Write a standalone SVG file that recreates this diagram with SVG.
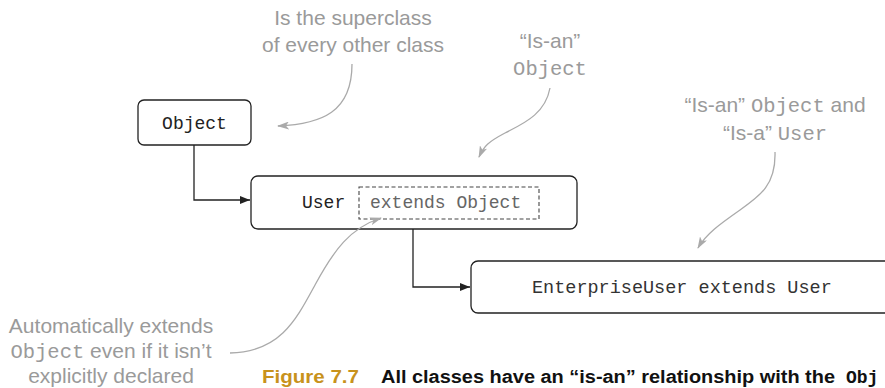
<svg xmlns="http://www.w3.org/2000/svg" width="885" height="388" viewBox="0 0 885 388">
  <style>
    .box { fill: #fff; stroke: #222; stroke-width: 1.3; }
    .dash { fill: none; stroke: #444; stroke-width: 1.1; stroke-dasharray: 4 2.5; }
    .code { font-family: "Liberation Mono", "Courier New", monospace; font-size: 18px; fill: #222; }
    .note { font-family: "Liberation Sans", Arial, sans-serif; font-size: 21px; fill: #9a9a9a; text-anchor: middle; }
    .notecode { font-family: "Liberation Mono", "Courier New", monospace; font-size: 20.5px; fill: #9a9a9a; }
    .conn { fill: none; stroke: #222; stroke-width: 1.3; }
    .call { fill: none; stroke: #aaa; stroke-width: 1.3; }
    .cap { font-family: "Liberation Sans", Arial, sans-serif; font-size: 18px; font-weight: bold; }
  </style>
  <defs>
    <marker id="ab" viewBox="0 0 10 8" refX="10" refY="4" markerWidth="10" markerHeight="8" markerUnits="userSpaceOnUse" orient="auto">
      <path d="M0,0 L10,4 L0,8 Z" fill="#222"/>
    </marker>
    <marker id="ag" viewBox="0 0 12 8" refX="11" refY="4" markerWidth="12" markerHeight="8" markerUnits="userSpaceOnUse" orient="auto">
      <path d="M0,0 L12,4 L0,8 L3,4 Z" fill="#aaa"/>
    </marker>
  </defs>

  <g id="node-object">
    <rect class="box" x="138" y="100" width="113" height="45" rx="6"/>
    <text class="code" x="194.5" y="129" text-anchor="middle">Object</text>
  </g>

  <g id="node-user">
    <rect class="box" x="251" y="176" width="326" height="53" rx="7"/>
    <text class="code" x="302" y="208" fill="#333">User</text>
    <rect class="dash" x="359" y="187" width="180" height="32"/>
    <text class="code" x="370" y="208" style="fill:#666">extends Object</text>
  </g>

  <g id="node-enterprise">
    <rect class="box" x="471" y="261" width="440" height="52" rx="7"/>
    <text class="code" x="532" y="293" style="font-size:18.5px;fill:#333">EnterpriseUser extends User</text>
  </g>

  <g id="note-superclass">
    <text class="note" x="353" y="25">Is the superclass</text>
    <text class="note" x="353" y="52">of every other class</text>
  </g>

  <g id="note-isan">
    <text class="note" x="550" y="48">“Is-an”</text>
    <text class="note" x="550" y="75"><tspan class="notecode">Object</tspan></text>
  </g>

  <g id="note-isan-isa">
    <text class="note" x="775" y="112">“Is-an” <tspan class="notecode">Object</tspan> and</text>
    <text class="note" x="775" y="140">“Is-a” <tspan class="notecode">User</tspan></text>
  </g>

  <g id="note-auto">
    <text class="note" x="111" y="333">Automatically extends</text>
    <text class="note" x="111" y="358"><tspan class="notecode">Object</tspan> even if it isn’t</text>
    <text class="note" x="111" y="383">explicitly declared</text>
  </g>

  <g id="caption">
    <text class="cap" x="262" y="383" fill="#c8921c" textLength="97" lengthAdjust="spacingAndGlyphs">Figure 7.7</text>
    <text class="cap" x="381" y="383" fill="#111" textLength="454" lengthAdjust="spacingAndGlyphs">All classes have an “is-an” relationship with the</text>
    <text x="846" y="383" style="font-family:'Liberation Mono','Courier New',monospace;font-size:18px;font-weight:bold;fill:#111">Obj</text>
  </g>

  <g id="connectors">
    <path class="conn" d="M194,145 V200 H250" marker-end="url(#ab)"/>
    <path class="conn" d="M413,229 V287 H470" marker-end="url(#ab)"/>
    <path class="call" d="M352,64 C352,112 322,124 278,126" marker-end="url(#ag)"/>
    <path class="call" d="M550,88 C545,115 522,124 505,133 S484,146 479,157" marker-end="url(#ag)"/>
    <path class="call" d="M775,152 C776,185 760,196 740,210 S706,234 698,248" marker-end="url(#ag)"/>
    <path class="call" d="M230,353 C280,352 296,320 315,285 S350,228 381,218" marker-end="url(#ag)"/>
  </g>
</svg>
